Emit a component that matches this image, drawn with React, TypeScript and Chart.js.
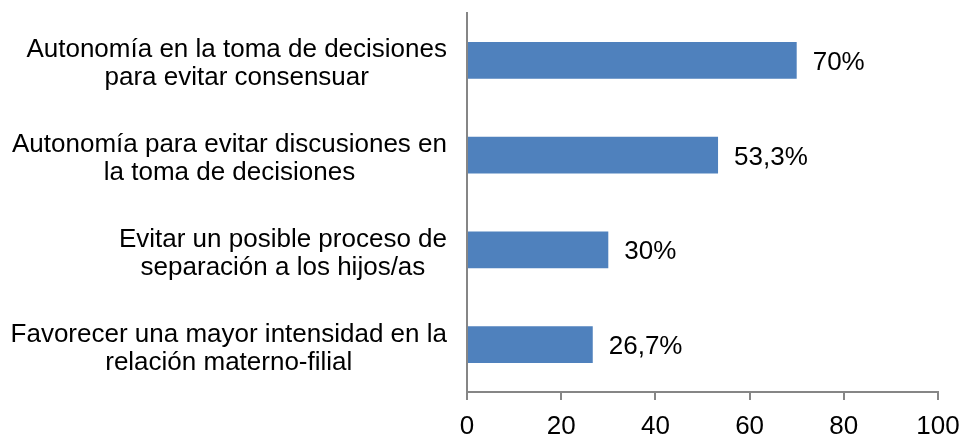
import React, { useEffect, useRef } from "react";
import { Chart, registerables } from "chart.js";

Chart.register(...registerables);

const categories: string[][] = [
  ["Autonomía en la toma de decisiones", "para evitar consensuar"],
  ["Autonomía para evitar discusiones en", "la toma de decisiones"],
  ["Evitar un posible proceso de", "separación a los hijos/as"],
  ["Favorecer una mayor intensidad en la", "relación materno-filial"],
];
const values: number[] = [70, 53.3, 30, 26.7];
const xMin = 0;
const xMax = 100;
const xStep = 20;

const FONT = '"Liberation Sans", Arial, sans-serif';
const FONT_SIZE = 26;
const BAR_COLOR = "#4F81BD";
const AXIS_COLOR = "#868686";

const fmt = (v: number) => String(v).replace(".", ",") + "%";

const labelPlugin = {
  id: "customLabels",
  afterDraw(chart: any) {
    const ctx = chart.ctx;
    const yScale = chart.scales.y;
    const area = chart.chartArea;
    ctx.save();
    ctx.font = `${FONT_SIZE}px ${FONT}`;
    ctx.fillStyle = "#000";
    ctx.textBaseline = "alphabetic";
    ctx.textAlign = "center";
    const right = area.left - 20;
    categories.forEach((lines, i) => {
      const cy = yScale.getPixelForValue(i);
      const w = Math.max(...lines.map((l) => ctx.measureText(l).width));
      const cx = right - w / 2;
      lines.forEach((l, j) => {
        ctx.fillText(l, cx, cy - 3 + j * 28);
      });
    });
    // data labels
    ctx.textAlign = "left";
    const meta = chart.getDatasetMeta(0);
    meta.data.forEach((bar: any, i: number) => {
      ctx.fillText(fmt(values[i]), bar.x + 16, bar.y + 9.5);
    });
    ctx.restore();
  },
};

export default function App() {
  const ref = useRef<HTMLCanvasElement | null>(null);
  useEffect(() => {
    if (!ref.current) return;
    const chart = new Chart(ref.current, {
      type: "bar",
      data: {
        labels: categories.map((c) => c.join(" ")),
        datasets: [
          {
            data: values,
            backgroundColor: BAR_COLOR,
            borderWidth: 0,
            barPercentage: 0.39,
            categoryPercentage: 1,
          },
        ],
      },
      options: {
        indexAxis: "y",
        animation: false,
        responsive: false,
        maintainAspectRatio: false,
        layout: { padding: { top: 13, right: 27, bottom: 0, left: 0 } },
        plugins: {
          legend: { display: false },
          tooltip: { enabled: false },
        },
        scales: {
          y: {
            type: "category",
            grid: { display: false },
            border: { display: true, color: AXIS_COLOR, width: 2 },
            ticks: { display: false },
            afterFit: (s: any) => {
              s.width = 467;
              s.paddingTop = 0;
              s.paddingBottom = 0;
            },
          },
          x: {
            type: "linear",
            min: xMin,
            max: xMax,
            grid: {
              display: true,
              drawOnChartArea: false,
              drawTicks: true,
              tickLength: 8,
              color: AXIS_COLOR,
              lineWidth: 2,
            },
            border: { display: true, color: AXIS_COLOR, width: 2 },
            ticks: {
              stepSize: xStep,
              color: "#000",
              padding: 11,
              maxRotation: 0,
              font: { family: FONT, size: FONT_SIZE },
            },
            afterFit: (s: any) => {
              s.height = 43;
              s.paddingLeft = 0;
              s.paddingRight = 0;
            },
          },
        },
      },
      plugins: [labelPlugin],
    });
    return () => chart.destroy();
  }, []);
  return (
    <div style={{ position: "absolute", left: 0, top: 0, width: 965, height: 435, background: "#fff" }}>
      <canvas ref={ref} width={965} height={435} />
    </div>
  );
}
